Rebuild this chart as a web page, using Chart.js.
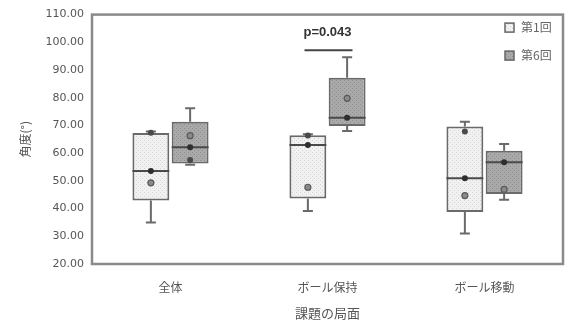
<!DOCTYPE html>
<html>
<head>
<meta charset="utf-8">
<script src="https://cdn.jsdelivr.net/npm/chart.js@4/dist/chart.umd.min.js"></script>
<style>
html,body{margin:0;padding:0;background:#fff;}
#wrap{width:568px;height:325px;}
</style>
</head>
<body>
<div id="wrap"><canvas id="c" width="568" height="325"></canvas></div>
<script>
// ---- data ----
const categories = ['全体', 'ボール保持', 'ボール移動'];
const seriesNames = ['第1回', '第6回'];
const yTickMin = 20, yTickMax = 110, yTickStep = 10;

// 第1回
const min1  = [35.0, 39.1, 31.0];
const q1_1  = [42.9, 43.6, 38.8];
const med1  = [53.6, 62.9, 50.9];
const q3_1  = [67.3, 66.5, 69.6];
const max1  = [67.8, 66.8, 71.3];
const mean1 = [49.3, 47.7, 44.7];
const extra1 = [67.4, 66.4, 67.8];

// 第6回
const min2  = [55.8, 68.0, 43.2];
const q1_2  = [56.3, 69.8, 45.3];
const med2  = [62.1, 72.8, 56.7];
const q3_2  = [71.3, 87.2, 60.9];
const max2  = [76.2, 94.6, 63.3];
const mean2 = [66.3, 79.8, 46.9];
const extra2 = [57.5, null, null];

const pText = 'p=0.043';
const pCategory = 1;
const pLineValue = 97.1;
const pTextValue = 103.6;

// ---- patterns ----
function makePattern(base, dot) {
  const c = document.createElement('canvas');
  c.width = 4; c.height = 4;
  const g = c.getContext('2d');
  g.fillStyle = base; g.fillRect(0, 0, 4, 4);
  g.fillStyle = dot;
  g.fillRect(0, 0, 1, 1);
  g.fillRect(2, 2, 1, 1);
  return g.createPattern(c, 'repeat');
}
const ctx = document.getElementById('c').getContext('2d');
const pat1 = makePattern('#f1f1f1', '#d6d6d6');
const pat2 = makePattern('#a9a9a9', '#8e8e8e');

const boxStats = [
  {min: min1, q1: q1_1, med: med1, q3: q3_1, max: max1, mean: mean1, extra: extra1},
  {min: min2, q1: q1_2, med: med2, q3: q3_2, max: max2, mean: mean2, extra: extra2}
];

const boxPlugin = {
  id: 'boxParts',
  beforeDatasetsDraw(chart) {
    const {ctx, chartArea: a} = chart;
    ctx.save();
    ctx.strokeStyle = '#8a8a8a';
    ctx.lineWidth = 2.5;
    ctx.strokeRect(a.left, a.top, a.right - a.left, a.bottom - a.top);
    ctx.restore();
  },
  afterDatasetsDraw(chart) {
    const {ctx} = chart;
    const y = chart.scales.y;
    const xs = chart.scales.x;
    ctx.save();
    boxStats.forEach((s, di) => {
      const meta = chart.getDatasetMeta(di);
      meta.data.forEach((el, j) => {
        const x = el.x, w = el.width;
        const pMin = y.getPixelForValue(s.min[j]);
        const pQ1 = y.getPixelForValue(s.q1[j]);
        const pQ3 = y.getPixelForValue(s.q3[j]);
        const pMax = y.getPixelForValue(s.max[j]);
        const pMed = y.getPixelForValue(s.med[j]);
        ctx.strokeStyle = '#6a6a6a';
        ctx.lineWidth = 2;
        ctx.beginPath();
        ctx.moveTo(x, pQ3); ctx.lineTo(x, pMax);
        ctx.moveTo(x, pQ1); ctx.lineTo(x, pMin);
        ctx.moveTo(x - 5, pMax); ctx.lineTo(x + 5, pMax);
        ctx.moveTo(x - 5, pMin); ctx.lineTo(x + 5, pMin);
        ctx.stroke();
        // median
        ctx.strokeStyle = '#4a4a4a';
        ctx.lineWidth = 2;
        ctx.beginPath();
        ctx.moveTo(x - w / 2, pMed); ctx.lineTo(x + w / 2, pMed);
        ctx.stroke();
        // dots
        ctx.fillStyle = '#2e2e2e';
        ctx.beginPath(); ctx.arc(x, pMed, 3, 0, Math.PI * 2); ctx.fill();
        if (s.extra[j] != null) {
          ctx.fillStyle = '#4a4a4a';
          ctx.beginPath(); ctx.arc(x, y.getPixelForValue(s.extra[j]), 3, 0, Math.PI * 2); ctx.fill();
        }
        ctx.fillStyle = '#8a8a8a';
        ctx.strokeStyle = '#5a5a5a';
        ctx.lineWidth = 1.2;
        ctx.beginPath(); ctx.arc(x, y.getPixelForValue(s.mean[j]), 3, 0, Math.PI * 2); ctx.fill(); ctx.stroke();
      });
    });
    // p-value annotation
    const cx = xs.getPixelForValue(pCategory);
    const ly = y.getPixelForValue(pLineValue);
    ctx.strokeStyle = '#444';
    ctx.lineWidth = 2;
    ctx.beginPath(); ctx.moveTo(cx - 23, ly); ctx.lineTo(cx + 25, ly); ctx.stroke();
    ctx.fillStyle = '#333';
    ctx.font = 'bold 13px "Liberation Sans", Arial, sans-serif';
    ctx.textAlign = 'center'; ctx.textBaseline = 'middle';
    ctx.fillText(pText, cx, y.getPixelForValue(pTextValue));
    // legend
    const a = chart.chartArea;
    const lx = a.right - 58;
    const fills = [pat1, pat2];
    seriesNames.forEach((name, i) => {
      const ty = a.top + 13 + i * 28;
      ctx.fillStyle = fills[i];
      ctx.fillRect(lx, ty - 4.5, 9, 9);
      ctx.strokeStyle = '#666';
      ctx.lineWidth = 1.5;
      ctx.strokeRect(lx, ty - 4.5, 9, 9);
      ctx.fillStyle = '#666';
      ctx.font = '12px "Noto Sans CJK JP", sans-serif';
      ctx.textAlign = 'left'; ctx.textBaseline = 'middle';
      ctx.fillText(name, lx + 16, ty);
    });
    ctx.restore();
  }
};

new Chart(ctx, {
  type: 'bar',
  data: {
    labels: categories,
    datasets: [
      {label: seriesNames[0], data: q1_1.map((v, i) => [v, q3_1[i]]), backgroundColor: pat1,
       borderColor: '#6a6a6a', borderWidth: 2, borderSkipped: false},
      {label: seriesNames[1], data: q1_2.map((v, i) => [v, q3_2[i]]), backgroundColor: pat2,
       borderColor: '#6a6a6a', borderWidth: 2, borderSkipped: false}
    ]
  },
  options: {
    responsive: false,
    animation: false,
    events: [],
    layout: {padding: {top: 10, right: 5, left: 0, bottom: 0}},
    datasets: {bar: {categoryPercentage: 0.5, barPercentage: 0.94}},
    plugins: {legend: {display: false}, tooltip: {enabled: false}},
    scales: {
      x: {
        grid: {display: false, drawTicks: false},
        border: {display: false},
        ticks: {color: '#555', padding: 16, font: {size: 12, family: '"Noto Sans CJK JP", sans-serif'}},
        title: {display: true, text: '課題の局面', color: '#555', padding: {top: 0, bottom: 4},
                font: {size: 13, family: '"Noto Sans CJK JP", sans-serif'}},
        afterFit(s) { s.height = 61; }
      },
      y: {
        min: yTickMin, max: yTickMax,
        grid: {display: false, drawTicks: false},
        border: {display: false},
        ticks: {stepSize: yTickStep, color: '#555', padding: 8,
                font: {size: 11, family: '"DejaVu Sans", sans-serif'},
                callback: v => Number(v).toFixed(2)},
        title: {display: true, text: '角度(°)', color: '#555', padding: {top: 18, bottom: 0},
                font: {size: 12, family: '"Noto Sans CJK JP", sans-serif'}},
        afterFit(s) { s.width = 92; }
      }
    }
  },
  plugins: [boxPlugin]
});
</script>
</body>
</html>
